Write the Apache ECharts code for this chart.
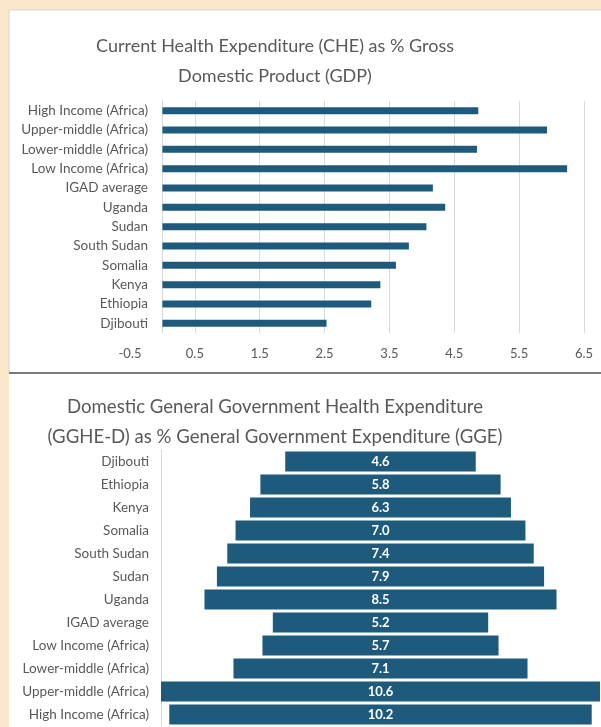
<!DOCTYPE html>
<html>
<head>
<meta charset="utf-8">
<script src="https://cdn.jsdelivr.net/npm/echarts@6/dist/echarts.min.js"></script>
<style>
  html, body { margin: 0; padding: 0; background: #fbe8cb; }
  #chart { width: 601px; height: 727px; }
</style>
</head>
<body>
<div id="chart"></div>
<script>
// top chart: CHE as % GDP (top-to-bottom order)
const cheCategories = [
  'High Income (Africa)', 'Upper-middle (Africa)', 'Lower-middle (Africa)', 'Low Income (Africa)',
  'IGAD average', 'Uganda', 'Sudan', 'South Sudan', 'Somalia', 'Kenya', 'Ethiopia', 'Djibouti'
]
const cheValues = [4.87, 5.93, 4.85, 6.24, 4.17, 4.36, 4.07, 3.80, 3.60, 3.36, 3.22, 2.53]

// bottom chart: GGHE-D as % GGE (top-to-bottom order)
const ggheCategories = [
  'Djibouti', 'Ethiopia', 'Kenya', 'Somalia', 'South Sudan', 'Sudan', 'Uganda',
  'IGAD average', 'Low Income (Africa)', 'Lower-middle (Africa)', 'Upper-middle (Africa)', 'High Income (Africa)'
]
const ggheValues = [4.6, 5.8, 6.3, 7.0, 7.4, 7.9, 8.5, 5.2, 5.7, 7.1, 10.6, 10.2]

const barColor = '#1d5a7c'
const textColor = '#595959'
const font = 'Lato'

// bars are centred: transparent padding stacked under each bar
const ggheMax = 10.6
const ggheOffsets = ggheValues.map(v => (ggheMax - v) / 2)

const chart = echarts.init(document.getElementById('chart'))

const option = {
  backgroundColor: '#fbe8cb',
  animation: false,
  textStyle: { fontFamily: font },
  graphic: [
    {
      type: 'rect',
      shape: { x: 9, y: 10, width: 600, height: 363 },
      style: { fill: '#ffffff', stroke: '#d6d6d6', lineWidth: 1 },
      z: -10
    },
    {
      type: 'rect',
      shape: { x: 9, y: 373, width: 600, height: 360 },
      style: { fill: '#ffffff' },
      z: -10
    },
    {
      type: 'line',
      shape: { x1: 9, y1: 373, x2: 601, y2: 373 },
      style: { stroke: '#7a7a7a', lineWidth: 2 },
      z: -5
    }
  ],
  title: [
    {
      text: 'Current Health Expenditure (CHE) as % Gross\nDomestic Product (GDP)',
      left: 270,
      top: 26,
      textAlign: 'center',
      textStyle: { fontFamily: font, fontSize: 18, fontWeight: 'normal', color: textColor, lineHeight: 30 }
    },
    {
      text: 'Domestic General Government Health Expenditure\n(GGHE-D) as % General Government Expenditure (GGE)',
      left: 270,
      top: 387,
      textAlign: 'center',
      textStyle: { fontFamily: font, fontSize: 18.6, fontWeight: 'normal', color: textColor, lineHeight: 30 }
    }
  ],
  grid: [
    { left: 130, right: 17, top: 101, height: 232, containLabel: false },
    { left: 161, right: 1, top: 450, height: 276, containLabel: false }
  ],
  xAxis: [
    {
      gridIndex: 0,
      type: 'value',
      min: -0.5,
      max: 6.5,
      interval: 1,
      axisLine: { show: false },
      axisTick: { show: false },
      axisLabel: {
        color: textColor,
        fontSize: 13,
        margin: 14,
        formatter: v => v.toFixed(1)
      },
      splitLine: {
        lineStyle: {
          color: ['rgba(0,0,0,0)', '#d9d9d9', '#d9d9d9', '#d9d9d9', '#d9d9d9', '#d9d9d9', '#d9d9d9', '#d9d9d9']
        }
      }
    },
    {
      gridIndex: 1,
      type: 'value',
      min: 0,
      max: ggheMax,
      show: false,
      splitLine: { show: false }
    }
  ],
  yAxis: [
    {
      gridIndex: 0,
      type: 'category',
      inverse: true,
      data: cheCategories,
      axisLine: { onZero: true, lineStyle: { color: '#d9d9d9' } },
      axisTick: { show: false },
      // labels sit next to the zero line, not the grid edge
      axisLabel: { color: textColor, fontSize: 13.5, margin: -18 }
    },
    {
      gridIndex: 1,
      type: 'category',
      inverse: true,
      data: ggheCategories,
      axisLine: { lineStyle: { color: '#d9d9d9' } },
      axisTick: { show: false },
      axisLabel: { color: textColor, fontSize: 13.5, margin: 12 }
    }
  ],
  series: [
    {
      name: 'CHE',
      type: 'bar',
      xAxisIndex: 0,
      yAxisIndex: 0,
      data: cheValues,
      barWidth: 7,
      itemStyle: { color: barColor }
    },
    {
      name: 'pad',
      type: 'bar',
      xAxisIndex: 1,
      yAxisIndex: 1,
      stack: 'gghe',
      data: ggheOffsets,
      barWidth: 20,
      itemStyle: { color: 'rgba(0,0,0,0)' },
      silent: true
    },
    {
      name: 'GGHE-D',
      type: 'bar',
      xAxisIndex: 1,
      yAxisIndex: 1,
      stack: 'gghe',
      data: ggheValues,
      barWidth: 20,
      clip: false,
      itemStyle: { color: barColor },
      label: {
        show: true,
        position: 'inside',
        color: '#ffffff',
        fontSize: 13,
        fontWeight: 'bold',
        formatter: p => p.value.toFixed(1)
      }
    }
  ]
}

chart.setOption(option)
</script>
</body>
</html>
